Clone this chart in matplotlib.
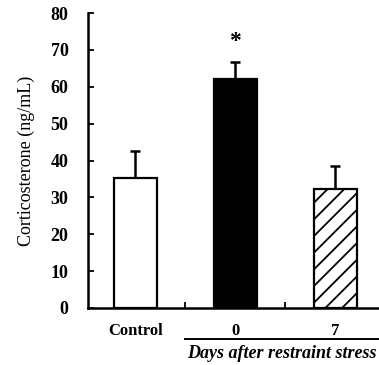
import numpy as np
import matplotlib.pyplot as plt
import matplotlib.transforms as mtransforms

plt.rcParams['font.family'] = ['Liberation Serif', 'DejaVu Serif']
plt.rcParams['hatch.linewidth'] = 1.3

groups = ["Control", "0", "7"]
means = [35.3, 62.1, 32.2]
errors = [7.2, 4.6, 6.3]
star_y = 72.4

fig = plt.figure(figsize=(3.79, 3.65), dpi=100)
ax = fig.add_axes([88 / 379, 57 / 365, 1 - 88 / 379, 295 / 365])

x = np.arange(len(groups))
width = 0.43
faces = ['white', 'black', 'white']
hatches = [None, None, '//']
for i in range(len(groups)):
    ax.bar(x[i], means[i], width=width, color=faces[i], edgecolor='black',
           linewidth=1.6, hatch=hatches[i], zorder=2)
# only the upper half of the error bar is shown
ax.errorbar(x, means, yerr=[np.zeros(3), errors], fmt='none', ecolor='black',
            elinewidth=1.8, capsize=3.5, capthick=1.8, zorder=1)

ax.text(x[1], star_y, '*', ha='center', va='center', fontsize=17, fontweight='bold')

ax.set_xlim(-0.475, 2.44)
ax.set_ylim(0, 80)
ax.set_yticks(np.arange(0, 81, 10))
ax.set_yticklabels([str(v) for v in range(0, 81, 10)], fontsize=13, fontweight='bold')
ax.set_xticks(x)
ax.set_xticklabels(groups, fontsize=12, fontweight='bold')
ax.set_xticks([0.5, 1.5], minor=True)
ax.tick_params(axis='x', which='major', length=0, pad=11)
ax.tick_params(axis='x', which='minor', direction='in', length=4, width=1.3)
ax.tick_params(axis='y', direction='in', length=4, width=1.3, pad=14)
ax.set_ylabel("Corticosterone (ng/mL)", fontsize=13, labelpad=11)

for s in ['top', 'right']:
    ax.spines[s].set_visible(False)
for s in ['left', 'bottom']:
    ax.spines[s].set_linewidth(1.8)

# group line + caption under the two stress bars
trans = mtransforms.blended_transform_factory(ax.transData, ax.transAxes)
ax.plot([0.5, 2.44], [-0.105, -0.105], color='black', linewidth=1.4,
        transform=trans, clip_on=False)
ax.text(1.47, -0.153, "Days after restraint stress", transform=trans,
        ha='center', va='center', fontsize=13, fontweight='bold', style='italic')

fig.savefig('out.png', dpi=100)
